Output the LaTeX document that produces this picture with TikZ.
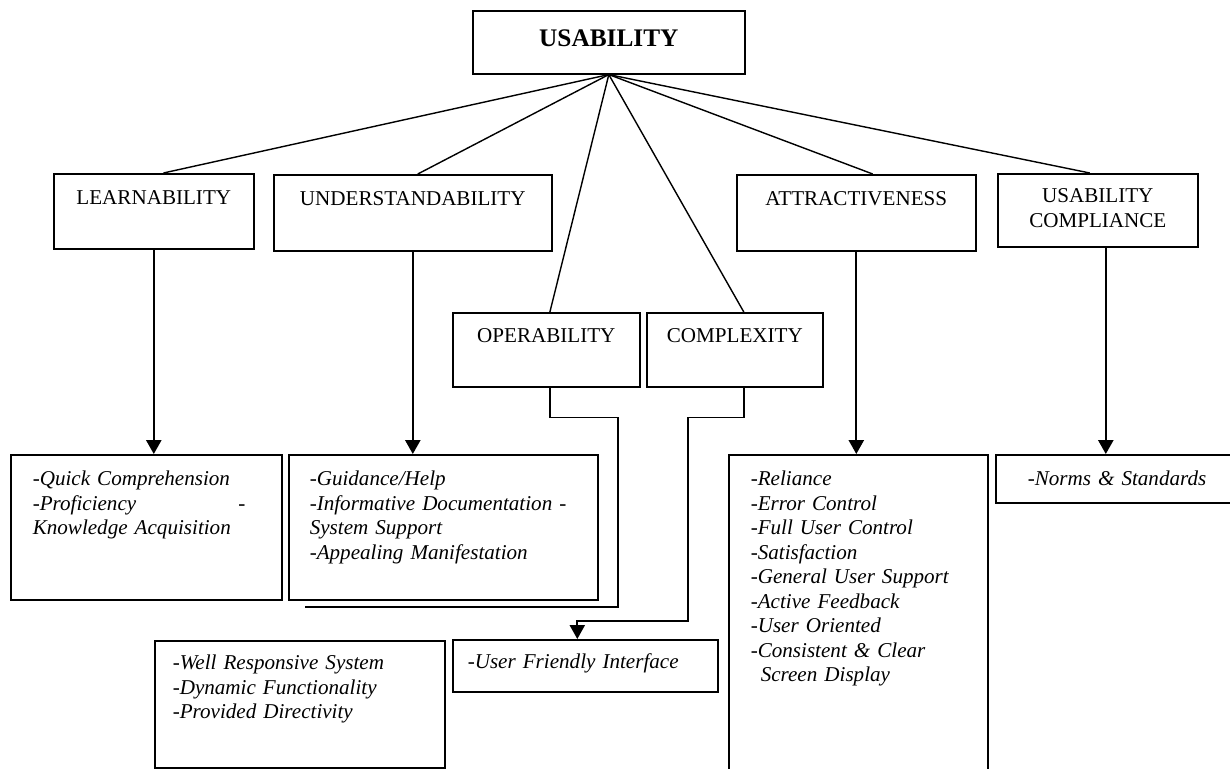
\documentclass[tikz,border=0pt]{standalone}
\usepackage{fontspec}
\setmainfont{Liberation Serif}
\usepackage{tikz}
\usetikzlibrary{arrows.meta}

\begin{document}
\begin{tikzpicture}[x=0.025cm, y=-0.025cm,
	            every node/.style={font=\fontsize{15}{17.4}\selectfont},
	            head/.style={
	            draw,
	            line width=1.1pt,
	            anchor=north west,
	            align=center,
	            inner xsep=0pt,
	            inner ysep=0pt,
	            text height=7.75mm,
	            },
	            list/.style={
	            draw,
	            line width=1.1pt,
	            anchor=north west,
	            align=left,
	            inner ysep=0pt,
	            text height=7.75mm,
	            font=\fontsize{15}{17.4}\selectfont\itshape,
	            },
	            >={Triangle[width=3.8mm,length=3.5mm]},
	            link/.style={draw, line width=1pt},
	            route/.style={draw, line width=1.2pt},
	            down/.style={draw, line width=1.4pt, ->}]

	        \useasboundingbox (0,0) rectangle (1230,769);
	        \clip (0,0) rectangle (1230,769);

	        \node[head, text width=6.8cm, text height=9mm, text depth=6.75mm, font=\fontsize{18}{21}\selectfont\bfseries] (usab) at (472,10) {USABILITY};

	        \node[head, text width=5cm, text depth=11mm] (learn) at (53,173) {LEARNABILITY};
	        \node[head, text width=6.95cm, text depth=11.25mm] (under) at (273,174) {UNDERSTANDABILITY};
	        \node[head, text width=5.975cm, text depth=11.25mm] (attr) at (736,174) {ATTRACTIVENESS};
	        \node[head, text width=5cm, text depth=11mm, text height=7.3mm] (comp) at (997,173) {USABILITY\\COMPLIANCE};
	        \node[head, text width=4.675cm, text depth=11mm, text height=7.5mm] (oper) at (452,312) {OPERABILITY};
	        \node[head, text width=4.4cm, text depth=11mm, text height=7.5mm] (cplx) at (646,312) {COMPLEXITY};

	        \node[list, inner xsep=5.5mm, text width=5.675cm, text depth=28.5mm] (quick) at (10,454) {-Quick Comprehension\\-Proficiency\hspace{2.55cm}-\\Knowledge Acquisition};
	        \node[list, inner xsep=5.25mm, text width=6.675cm, text depth=28.5mm] (guide) at (288,454) {-Guidance/Help\\-Informative Documentation -\\System Support\\-Appealing Manifestation};
	        \node[list, inner xsep=5.5mm, text width=5.375cm, text depth=75mm] (feat) at (728,454) {-Reliance\\-Error Control\\-Full User Control\\-Satisfaction\\-General User Support\\-Active Feedback\\-User Oriented\\-Consistent \& Clear\\\hspace*{2.5mm}Screen Display};
	        \node[list, inner xsep=8mm, text width=4.9cm, text depth=4.25mm] (norms) at (995,454) {-Norms \& Standards};
	        \node[list, inner xsep=4.5mm, text width=6.35cm, text height=7.3mm, text depth=24.45mm] (well) at (154,640) {-Well Responsive System\\-Dynamic Functionality\\-Provided Directivity};
	        \node[list, inner xsep=3.75mm, text width=5.875cm, text height=7.3mm, text depth=5.7mm] (friendly) at (452,639) {-User Friendly Interface};

	        \draw[link] (usab.south) -- ([xshift=0.24cm]learn.north);
	        \draw[link] (usab.south) -- ([xshift=0.125cm]under.north);
	        \draw[link] (usab.south) -- ([xshift=0.09cm]oper.north);
	        \draw[link] (usab.south) -- ([xshift=0.225cm]cplx.north);
	        \draw[link] (usab.south) -- ([xshift=0.41cm]attr.north);
	        \draw[link] (usab.south) -- ([xshift=-0.2cm]comp.north);

	        \coordinate (compfoot) at ([xshift=0.2cm]comp.south);
	        \draw[down] (learn.south) -- (learn.south |- quick.north);
	        \draw[down] (under.south) -- (under.south |- guide.north);
	        \draw[down] (attr.south) -- (attr.south |- feat.north);
	        \draw[down] (compfoot) -- (compfoot |- norms.north);

	        \coordinate (opbend) at (618,607);
	        \coordinate (opend) at (305,607);
	        \draw[route] ([xshift=0.09cm]oper.south) -- ++(0,30) -| (opbend) -- (opend);

	        \coordinate (cxbend) at (688,621);
	        \draw[route, ->] ([xshift=0.225cm]cplx.south) -- ++(0,30) -| (cxbend) -| ([xshift=-0.2cm]friendly.north);

	    \end{tikzpicture}
\end{document}
